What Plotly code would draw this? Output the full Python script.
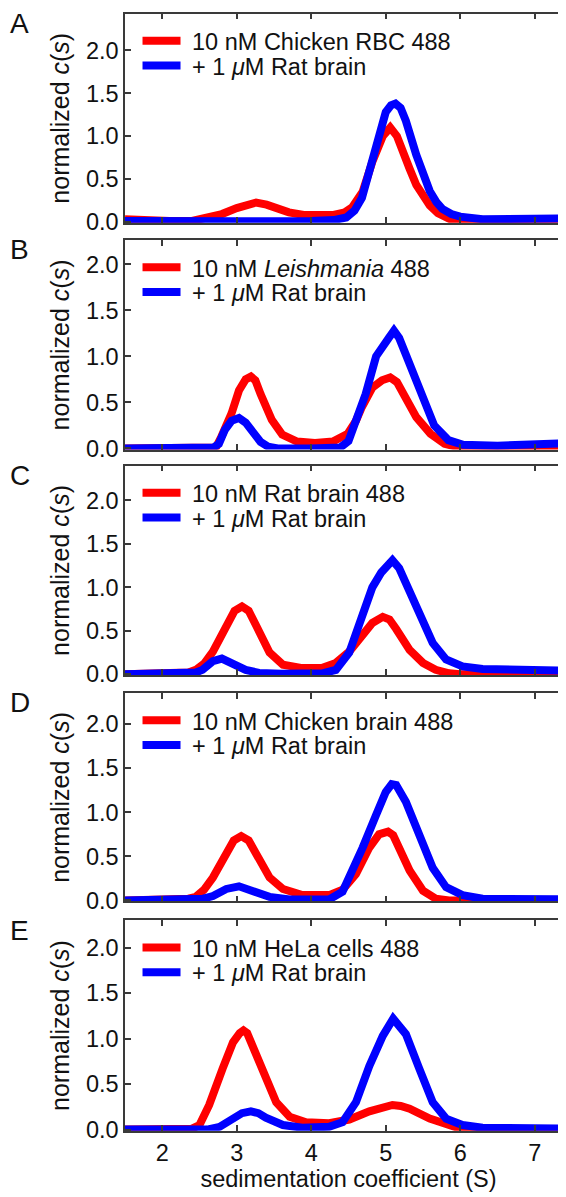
import plotly.graph_objects as go

# ---------------- data ----------------
panel_letters = ["A", "B", "C", "D", "E"]
red_labels = [
    "10 nM Chicken RBC 488",
    "10 nM <i>Leishmania</i> 488",
    "10 nM Rat brain 488",
    "10 nM Chicken brain 488",
    "10 nM HeLa cells 488",
]
blue_label = "+ 1 <i>μ</i>M Rat brain"
x_ticks = [2, 3, 4, 5, 6, 7]
y_ticks = [0.0, 0.5, 1.0, 1.5, 2.0]

a_red_x = [1.5, 1.8, 2.1, 2.4, 2.6, 2.8, 3.0, 3.15, 3.26, 3.4, 3.55, 3.7, 3.9, 4.1, 4.3, 4.45, 4.55, 4.69, 4.82, 4.96, 5.06, 5.15, 5.23, 5.32, 5.41, 5.5, 5.59, 5.7, 5.81, 5.9, 6.0, 6.5, 7.0, 7.5]
a_red_y = [0.03, 0.015, 0.01, 0.01, 0.04, 0.09, 0.16, 0.21, 0.225, 0.2, 0.15, 0.11, 0.08, 0.07, 0.08, 0.11, 0.17, 0.35, 0.70, 1.0, 1.10, 1.0, 0.80, 0.62, 0.43, 0.30, 0.19, 0.10, 0.04, 0.015, 0.005, 0.0, 0.0, 0.0]
a_blue_x = [1.5, 2.0, 3.0, 4.0, 4.3, 4.47, 4.58, 4.68, 4.78, 4.91, 5.0, 5.07, 5.13, 5.2, 5.27, 5.41, 5.5, 5.59, 5.68, 5.76, 5.88, 6.0, 6.3, 6.8, 7.2, 7.5]
a_blue_y = [0.01, 0.005, 0.005, 0.01, 0.02, 0.05, 0.13, 0.28, 0.62, 1.05, 1.28, 1.36, 1.38, 1.33, 1.18, 0.78, 0.55, 0.36, 0.23, 0.15, 0.09, 0.06, 0.03, 0.03, 0.035, 0.04]

b_red_x = [1.5, 2.5, 2.72, 2.79, 2.93, 3.03, 3.12, 3.19, 3.25, 3.32, 3.47, 3.61, 3.81, 4.05, 4.29, 4.49, 4.6, 4.68, 4.82, 4.95, 5.06, 5.15, 5.21, 5.41, 5.6, 5.79, 5.99, 6.5, 7.0, 7.5]
b_red_y = [0.0, 0.0, 0.01, 0.12, 0.38, 0.63, 0.75, 0.78, 0.74, 0.59, 0.31, 0.15, 0.075, 0.06, 0.075, 0.16, 0.30, 0.45, 0.66, 0.74, 0.77, 0.72, 0.63, 0.34, 0.16, 0.05, 0.01, 0.0, 0.0, 0.0]
b_blue_x = [1.5, 2.5, 2.69, 2.76, 2.84, 2.93, 3.03, 3.12, 3.22, 3.32, 3.42, 3.55, 4.0, 4.39, 4.5, 4.58, 4.73, 4.87, 4.97, 5.04, 5.11, 5.18, 5.26, 5.45, 5.65, 5.84, 6.04, 6.5, 7.0, 7.5]
b_blue_y = [0.0, 0.0, 0.01, 0.05, 0.20, 0.30, 0.33, 0.28, 0.17, 0.07, 0.02, 0.0, 0.0, 0.01, 0.08, 0.24, 0.59, 1.0, 1.1, 1.2, 1.28, 1.2, 1.04, 0.63, 0.25, 0.09, 0.04, 0.03, 0.04, 0.06]

c_red_x = [1.5, 2.2, 2.35, 2.45, 2.56, 2.68, 2.86, 2.97, 3.07, 3.16, 3.26, 3.44, 3.62, 3.88, 4.15, 4.33, 4.51, 4.69, 4.82, 4.96, 5.05, 5.14, 5.32, 5.5, 5.67, 5.85, 6.0, 6.5, 7.0, 7.5]
c_red_y = [0.0, 0.0, 0.02, 0.05, 0.12, 0.26, 0.56, 0.73, 0.78, 0.73, 0.56, 0.25, 0.11, 0.07, 0.075, 0.13, 0.26, 0.45, 0.59, 0.66, 0.63, 0.52, 0.28, 0.13, 0.05, 0.01, 0.0, 0.0, 0.0, 0.0]
c_blue_x = [1.5, 2.3, 2.45, 2.54, 2.68, 2.8, 2.95, 3.12, 3.3, 3.6, 4.15, 4.33, 4.51, 4.69, 4.82, 4.94, 5.09, 5.18, 5.27, 5.45, 5.63, 5.81, 6.03, 6.3, 6.8, 7.5]
c_blue_y = [0.0, 0.0, 0.02, 0.05, 0.15, 0.18, 0.13, 0.05, 0.015, 0.005, 0.01, 0.05, 0.25, 0.66, 1.0, 1.17, 1.31, 1.22, 1.04, 0.70, 0.36, 0.17, 0.09, 0.06, 0.05, 0.04]

d_red_x = [1.5, 2.2, 2.35, 2.45, 2.56, 2.68, 2.86, 2.96, 3.06, 3.16, 3.26, 3.44, 3.62, 3.88, 4.24, 4.42, 4.6, 4.78, 4.91, 5.03, 5.1, 5.16, 5.32, 5.5, 5.67, 5.85, 6.5, 7.5]
d_red_y = [0.0, 0.0, 0.02, 0.04, 0.12, 0.26, 0.53, 0.68, 0.73, 0.68, 0.53, 0.26, 0.13, 0.06, 0.06, 0.12, 0.30, 0.60, 0.75, 0.78, 0.74, 0.64, 0.34, 0.11, 0.02, 0.0, 0.0, 0.0]
d_blue_x = [1.5, 2.4, 2.55, 2.68, 2.86, 3.03, 3.21, 3.44, 3.71, 4.0, 4.24, 4.42, 4.51, 4.69, 4.87, 5.0, 5.08, 5.14, 5.27, 5.45, 5.63, 5.81, 6.03, 6.3, 6.8, 7.5]
d_blue_y = [0.0, 0.0, 0.02, 0.05, 0.13, 0.16, 0.11, 0.04, 0.01, 0.0, 0.01, 0.10, 0.25, 0.60, 0.97, 1.23, 1.32, 1.31, 1.12, 0.75, 0.37, 0.15, 0.06, 0.02, 0.01, 0.01]

e_red_x = [1.5, 2.3, 2.4, 2.5, 2.63, 2.81, 2.95, 3.04, 3.09, 3.14, 3.21, 3.35, 3.53, 3.71, 3.93, 4.24, 4.51, 4.78, 4.95, 5.09, 5.2, 5.32, 5.59, 5.85, 6.0, 6.5, 7.5]
e_red_y = [0.0, 0.0, 0.01, 0.05, 0.27, 0.67, 0.96, 1.06, 1.09, 1.06, 0.92, 0.63, 0.30, 0.14, 0.08, 0.07, 0.11, 0.20, 0.25, 0.27, 0.26, 0.23, 0.12, 0.05, 0.01, 0.0, 0.0]
e_blue_x = [1.5, 2.6, 2.77, 2.95, 3.07, 3.19, 3.29, 3.39, 3.62, 3.88, 4.24, 4.42, 4.6, 4.78, 4.96, 5.1, 5.27, 5.45, 5.63, 5.81, 6.03, 6.3, 6.8, 7.5]
e_blue_y = [0.0, 0.0, 0.03, 0.12, 0.18, 0.20, 0.18, 0.13, 0.05, 0.02, 0.03, 0.08, 0.30, 0.70, 1.03, 1.22, 1.05, 0.67, 0.30, 0.12, 0.05, 0.02, 0.01, 0.01]

red_x = [a_red_x, b_red_x, c_red_x, d_red_x, e_red_x]
red_y = [a_red_y, b_red_y, c_red_y, d_red_y, e_red_y]
blue_x = [a_blue_x, b_blue_x, c_blue_x, d_blue_x, e_blue_x]
blue_y = [a_blue_y, b_blue_y, c_blue_y, d_blue_y, e_blue_y]
y_tops = [2.43, 2.26, 2.40, 2.35, 2.30]

# ---------------- layout geometry (pixels) ----------------
W, H = 566, 1197
L, R = 117, 564
panel_px = [(5.7, 217.0), (234.7, 446.0), (462.3, 674.0), (692.3, 902.5), (921.7, 1134.0)]

FONT = "Arial, Liberation Sans, Helvetica, sans-serif"
FS = 23.5
RED = "#ff0000"
BLUE = "#0000ff"
AX = "#3a3a3a"
GAP = "\u00a0"  # small extra gap between legend line and its text

fig = go.Figure()
layout = dict(
    width=W, height=H,
    margin=dict(l=L, r=W - R, t=0, b=0),
    paper_bgcolor="white", plot_bgcolor="white",
    font=dict(family=FONT, size=FS, color="#111111"),
    annotations=[],
    showlegend=True,
)


def legend_box(center_px):
    return dict(
        x=0.028, y=1 - center_px / H, xanchor="left", yanchor="middle",
        xref="paper", yref="paper", bgcolor="rgba(0,0,0,0)",
        font=dict(size=FS, color="#111111"), itemwidth=38, borderwidth=0,
    )


for i in range(5):
    sfx = "" if i == 0 else str(i + 1)
    leg_r = "legend" if i == 0 else "legend" + str(2 * i + 1)
    leg_b = "legend" + str(2 * i + 2)
    top, bot = panel_px[i]
    dom = [1 - bot / H, 1 - top / H]
    fig.add_trace(go.Scatter(x=red_x[i], y=red_y[i], mode="lines",
                             line=dict(color=RED, width=8), name=GAP + red_labels[i],
                             xaxis="x" + sfx, yaxis="y" + sfx, legend=leg_r))
    fig.add_trace(go.Scatter(x=blue_x[i], y=blue_y[i], mode="lines",
                             line=dict(color=BLUE, width=8), name=GAP + blue_label,
                             xaxis="x" + sfx, yaxis="y" + sfx, legend=leg_b))
    last = i == 4
    layout["xaxis" + sfx] = dict(
        domain=[0, 1], anchor="y" + sfx, range=[1.5, 7.5],
        tickvals=x_ticks, ticks="inside", ticklen=6, tickwidth=1.5, tickcolor=AX,
        showline=True, linecolor=AX, linewidth=1.5, mirror="ticks",
        showgrid=False, zeroline=False, showticklabels=last,
        tickfont=dict(size=FS, color="#111111"),
        title=dict(text="sedimentation coefficient (S)" if last else "",
                   font=dict(size=FS), standoff=4),
    )
    layout["yaxis" + sfx] = dict(
        domain=dom, anchor="x" + sfx, range=[-0.012, y_tops[i]],
        tickvals=y_ticks, tickformat=".1f", ticks="inside", ticklen=6, tickwidth=1.5,
        tickcolor=AX, showline=True, linecolor=AX, linewidth=1.5, mirror="ticks",
        showgrid=False, zeroline=False,
        tickfont=dict(size=FS, color="#111111"),
        title=dict(text="normalized <i>c</i>(<i>s</i>)", font=dict(size=25), standoff=9),
    )
    layout[leg_r] = legend_box(top + 27.5)
    layout[leg_b] = legend_box(top + 52.5)
    layout["annotations"].append(dict(
        text=panel_letters[i], x=-0.262, xref="paper", xanchor="left",
        y=1 - (top - 8) / H, yref="paper", yanchor="top", showarrow=False,
        font=dict(size=28, color="#111111", family=FONT),
    ))

fig.update_layout(**layout)
fig.write_html("out.html")
